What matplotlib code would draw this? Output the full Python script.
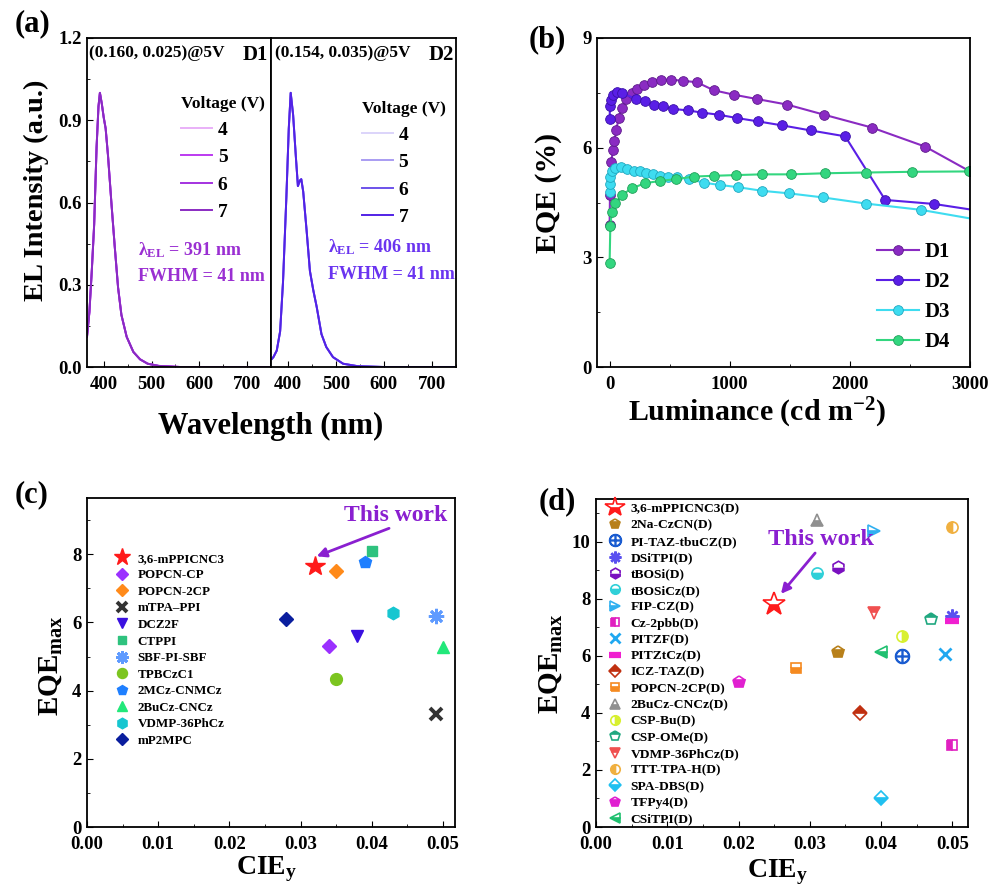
import matplotlib.pyplot as plt
from matplotlib.ticker import MultipleLocator

# ---------------- data ----------------
# (a) normalized EL spectra (same shape at each voltage)
voltages = ['4', '5', '6', '7']
d1_wl = [365, 370, 375, 380, 385, 389, 392, 396, 400, 404, 409, 416, 423, 430, 437,
         448, 462, 476, 492, 515, 560, 650, 750]
d1_int = [0.11, 0.20, 0.35, 0.52, 0.80, 0.95, 1.00, 0.96, 0.91, 0.87, 0.77, 0.60, 0.44,
          0.29, 0.19, 0.11, 0.055, 0.028, 0.012, 0.004, 0.0, 0.0, 0.0]
d2_wl = [367, 370, 377, 384, 390, 397, 402, 406, 411, 417, 421, 425, 428, 432, 439, 446,
         453, 460, 470, 480, 494, 515, 545, 600, 750]
d2_int = [0.03, 0.036, 0.06, 0.13, 0.31, 0.62, 0.87, 1.0, 0.92, 0.76, 0.66, 0.68, 0.685,
          0.64, 0.50, 0.35, 0.28, 0.22, 0.12, 0.073, 0.036, 0.012, 0.003, 0.0, 0.0]

# (b) EQE vs luminance
d1_L = [0, 3, 14, 28, 39, 56, 75, 103, 139, 186, 228, 283, 352, 427, 513, 610, 726, 867,
        1033, 1227, 1476, 1787, 2183, 2626, 3000]
d1_eqe = [3.88, 4.71, 5.62, 5.94, 6.17, 6.49, 6.81, 7.08, 7.33, 7.49, 7.60, 7.72, 7.81,
          7.86, 7.86, 7.83, 7.79, 7.57, 7.45, 7.33, 7.18, 6.90, 6.55, 6.03, 5.35]
d2_L = [0, 3, 8, 28, 61, 103, 222, 297, 366, 444, 527, 649, 768, 909, 1061, 1233, 1435,
        1676, 1961, 2294, 2701, 3200]
d2_eqe = [6.78, 7.13, 7.31, 7.45, 7.51, 7.49, 7.33, 7.27, 7.17, 7.13, 7.06, 7.02, 6.96,
          6.90, 6.81, 6.72, 6.61, 6.47, 6.31, 4.57, 4.46, 4.21]
d3_L = [0, 2, 5, 19, 47, 94, 144, 199, 249, 305, 360, 421, 490, 565, 665, 787, 917, 1066,
        1269, 1493, 1773, 2136, 2590, 3200]
d3_eqe = [4.80, 5.00, 5.21, 5.35, 5.44, 5.46, 5.41, 5.36, 5.35, 5.32, 5.28, 5.23, 5.21,
          5.19, 5.14, 5.04, 4.98, 4.92, 4.82, 4.75, 4.64, 4.47, 4.30, 3.95]
d4_L = [0, 6, 19, 47, 103, 186, 297, 421, 554, 704, 865, 1050, 1269, 1512, 1795, 2133,
        2521, 2992]
d4_eqe = [2.85, 3.87, 4.25, 4.48, 4.71, 4.89, 5.03, 5.09, 5.14, 5.21, 5.23, 5.25, 5.27,
          5.27, 5.30, 5.32, 5.34, 5.35]

# (c) comparison
c_names = ['3,6-mPPICNC3', 'POPCN-CP', 'POPCN-2CP', 'mTPA\u2013PPI', 'DCZ2F', 'CTPPI',
           'SBF-PI-SBF', 'TPBCzC1', '2MCz-CNMCz', '2BuCz-CNCz', 'VDMP-36PhCz', 'mP2MPC']
c_x = [0.032, 0.034, 0.035, 0.049, 0.038, 0.040, 0.049, 0.035, 0.039, 0.050, 0.043, 0.028]
c_y = [7.65, 5.30, 7.51, 3.31, 5.60, 8.10, 6.19, 4.33, 7.76, 5.28, 6.28, 6.09]

# (d) comparison (doped)
d_names = ['3,6-mPPICNC3(D)', '2Na-CzCN(D)', 'PI-TAZ-tbuCZ(D)', 'DSiTPI(D)', 'tBOSi(D)',
           'tBOSiCz(D)', 'FIP-CZ(D)', 'Cz-2pbb(D)', 'PITZF(D)', 'PITZtCz(D)', 'ICZ-TAZ(D)',
           'POPCN-2CP(D)', '2BuCz-CNCz(D)', 'CSP-Bu(D)', 'CSP-OMe(D)', 'VDMP-36PhCz(D)',
           'TTT-TPA-H(D)', 'SPA-DBS(D)', 'TFPy4(D)', 'CSiTPI(D)']
d_x = [0.025, 0.034, 0.043, 0.050, 0.034, 0.031, 0.039, 0.050, 0.049, 0.050, 0.037, 0.028,
       0.031, 0.043, 0.047, 0.039, 0.050, 0.040, 0.020, 0.040]
d_y = [7.81, 6.14, 6.00, 7.40, 9.12, 8.89, 10.37, 2.89, 6.06, 7.22, 4.00, 5.59, 10.78,
       6.70, 7.31, 7.51, 10.53, 1.02, 5.09, 6.14]

# ---------------- style ----------------
plt.rcParams['font.family'] = ['Liberation Serif', 'DejaVu Serif']
plt.rcParams['font.weight'] = 'bold'
plt.rcParams['mathtext.fontset'] = 'custom'
plt.rcParams['mathtext.rm'] = 'Liberation Serif:bold'
plt.rcParams['mathtext.it'] = 'Liberation Serif:bold:italic'
plt.rcParams['mathtext.bf'] = 'Liberation Serif:bold'
plt.rcParams['axes.linewidth'] = 1.3
plt.rcParams['xtick.direction'] = 'in'
plt.rcParams['ytick.direction'] = 'in'
plt.rcParams['xtick.major.size'] = 4
plt.rcParams['ytick.major.size'] = 4
plt.rcParams['xtick.minor.size'] = 2.5
plt.rcParams['ytick.minor.size'] = 2.5
plt.rcParams['xtick.labelsize'] = 13.5
plt.rcParams['ytick.labelsize'] = 13.5
plt.rcParams['xtick.major.pad'] = 6.5
plt.rcParams['ytick.major.pad'] = 4

W, H = 993, 889
fig = plt.figure(figsize=(W / 100, H / 100), dpi=100)


def box(x0, y0, x1, y1):
    return [x0 / W, 1 - y1 / H, (x1 - x0) / W, (y1 - y0) / H]


def ftext(x, y, s, **kw):
    fig.text(x / W, 1 - y / H, s, ha='center', va='center', **kw)


# ---------------- (a) ----------------
ax1 = fig.add_axes(box(87, 38, 271, 367))
ax2 = fig.add_axes(box(271, 38, 456, 367))
d1_cols = ['#E9B0F8', '#BC3AF0', '#A432E0', '#8A2BC2']
d2_cols = ['#DCD4FA', '#A99CF2', '#6C52EA', '#5222E6']
for v, c in zip(voltages, d1_cols):
    ax1.plot(d1_wl, d1_int, color=c, lw=1.4, label=v)
for v, c in zip(voltages, d2_cols):
    ax2.plot(d2_wl, d2_int, color=c, lw=1.4, label=v)

for ax in (ax1, ax2):
    ax.set_xlim(365, 750)
    ax.set_ylim(0, 1.2)
    ax.xaxis.set_major_locator(MultipleLocator(100))
    ax.xaxis.set_minor_locator(MultipleLocator(50))
    ax.yaxis.set_major_locator(MultipleLocator(0.3))
    ax.yaxis.set_minor_locator(MultipleLocator(0.15))
    ax.tick_params(top=False, right=False, which='both')
ax1.yaxis.set_major_formatter(plt.FuncFormatter(lambda v, p: f'{v:.1f}'))
ax2.tick_params(left=False, labelleft=False, which='both')

ax1.text(0.012, 0.955, '(0.160, 0.025)@5V', transform=ax1.transAxes, fontsize=12.5,
         ha='left', va='center')
ax1.text(0.985, 0.948, 'D1', transform=ax1.transAxes, fontsize=15, ha='right', va='center')
ax2.text(0.02, 0.955, '(0.154, 0.035)@5V', transform=ax2.transAxes, fontsize=12.5,
         ha='left', va='center')
ax2.text(0.99, 0.948, 'D2', transform=ax2.transAxes, fontsize=15, ha='right', va='center')

ax1.text(0.275, 0.356, r'λ$_{\mathrm{EL}}$ = 391 nm', transform=ax1.transAxes, fontsize=13,
         color='#9A2FD2', va='center')
ax1.text(0.275, 0.274, 'FWHM = 41 nm', transform=ax1.transAxes, fontsize=13,
         color='#9A2FD2', va='center')
ax2.text(0.31, 0.365, r'λ$_{\mathrm{EL}}$ = 406 nm', transform=ax2.transAxes, fontsize=13,
         color='#6A34F0', va='center')
ax2.text(0.31, 0.28, 'FWHM = 41 nm', transform=ax2.transAxes, fontsize=13,
         color='#6A34F0', va='center')

for ax, anchor in ((ax1, (0.51, 0.825)), (ax2, (0.49, 0.81))):
    leg = ax.legend(title='Voltage (V)', loc='upper left', bbox_to_anchor=anchor,
                    frameon=False, fontsize=14, title_fontsize=12.5, handlelength=1.6,
                    handletextpad=0.3, labelspacing=0.5, alignment='left',
                    borderaxespad=0, borderpad=0)

ftext(36, 190, 'EL Intensity (a.u.)', fontsize=20.5, rotation=90)
ftext(271, 426, 'Wavelength (nm)', fontsize=22)
ftext(32, 24, '(a)', fontsize=22)

# ---------------- (b) ----------------
axb = fig.add_axes(box(597, 38, 970, 367))
series_b = [('D1', d1_L, d1_eqe, '#8A2BC2', '#5E1A8C'),
            ('D2', d2_L, d2_eqe, '#5A1FE6', '#3A10A8'),
            ('D3', d3_L, d3_eqe, '#3EDCF0', '#20A8C0'),
            ('D4', d4_L, d4_eqe, '#33D67F', '#20A05A')]
for name, L, e, c, ec in series_b:
    axb.plot(L, e, color=c, lw=1.5, marker='o', ms=7, mfc=c, mec=ec, mew=0.6,
             label=name)
axb.set_xlim(-105, 3000)
axb.set_ylim(0, 9)
axb.xaxis.set_major_locator(MultipleLocator(1000))
axb.xaxis.set_minor_locator(MultipleLocator(500))
axb.yaxis.set_major_locator(MultipleLocator(3))
axb.yaxis.set_minor_locator(MultipleLocator(1.5))
axb.tick_params(top=False, right=False, which='both')
axb.legend(loc='lower right', bbox_to_anchor=(0.97, 0.02), frameon=False, fontsize=15,
           handlelength=2.0, handletextpad=0.3, labelspacing=0.48, borderaxespad=0)
ftext(549, 193, 'EQE (%)', fontsize=21.5, rotation=90)
ftext(757, 413, r'Luminance (cd m$^{\mathbf{-2}}$)', fontsize=21.5)
ftext(547, 40, '(b)', fontsize=22)

# ---------------- (c) ----------------
axc = fig.add_axes(box(87, 498, 455, 827))
c_style = [('*', '#FF1A1A', 15), ('D', '#9B30FF', 7), ('D', '#FF8A1A', 7),
           ('x', '#333333', 9), ('v', '#3A10E0', 8), ('s', '#2EC27E', 7.5),
           ((8, 2, 0), '#5F9BFF', 11), ('o', '#7CC520', 8.5), ('p', '#1E7FFF', 9),
           ('^', '#22E87A', 8.5), ('h', '#16C6D0', 9), ('D', '#0A1E9E', 7)]
for name, x, y, (m, col, ms) in zip(c_names, c_x, c_y, c_style):
    if m in ('x', (8, 2, 0)):
        axc.plot(x, y, ls='none', marker=m, ms=ms, color=col, mew=2.8 if m == 'x' else 2,
                 label=name)
    else:
        axc.plot(x, y, ls='none', marker=m, ms=ms, color=col, mec=col, label=name)
axc.set_xlim(0, 0.0517)
axc.set_ylim(0, 9.65)
axc.xaxis.set_major_locator(MultipleLocator(0.01))
axc.xaxis.set_minor_locator(MultipleLocator(0.005))
axc.yaxis.set_major_locator(MultipleLocator(2))
axc.yaxis.set_minor_locator(MultipleLocator(1))
axc.xaxis.set_major_formatter(plt.FuncFormatter(lambda v, p: f'{v:.2f}'))
axc.tick_params(top=False, right=False, which='both')
axc.legend(loc='upper left', bbox_to_anchor=(0.06, 0.85), frameon=False, fontsize=9.4,
           handlelength=1.2, handletextpad=0.6, labelspacing=0.34, borderaxespad=0,
           markerscale=0.85)
axc.text(0.0434, 9.14, 'This work', fontsize=17, color='#8A1FD0', ha='center', va='center')
axc.annotate('', xy=(0.0319, 7.91), xytext=(0.0428, 8.79),
             arrowprops=dict(arrowstyle='-|>', color='#8A1FD0', lw=2, mutation_scale=14))
ftext(50, 665, r'EQE$_{\mathrm{max}}$', fontsize=21, rotation=90)
ftext(267, 869, r'CIE$_{\mathrm{y}}$', fontsize=20)
ftext(32, 495, '(c)', fontsize=22)

# ---------------- (d) ----------------
axd = fig.add_axes(box(596, 499, 968, 827))
d_style = [('*', '#FF1A1A', 'bottom', 17), ('p', '#B8801A', 'bottom', 9),
           (r'$\oplus$', '#1A5CD0', 'full', 10), ((8, 2, 0), '#5A50F0', 'full', 10),
           ('h', '#7A10C0', 'bottom', 9), ('o', '#30D0D8', 'bottom', 8),
           ('>', '#30B0F0', 'bottom', 8), ('s', '#E020C0', 'left', 7.5),
           ('x', '#20A8F0', 'full', 9), ('_', '#F020D0', 'full', 10),
           ('D', '#C03010', 'top', 7.5), ('s', '#F58A20', 'bottom', 7.5),
           ('^', '#909090', 'bottom', 8), ('o', '#D8F030', 'right', 8),
           ('p', '#20A880', 'top', 9), ('v', '#F05050', 'top', 8),
           ('o', '#F0B040', 'left', 8), ('D', '#20C0F0', 'bottom', 7.5),
           ('p', '#E020D0', 'bottom', 9), ('<', '#20C070', 'bottom', 8)]
for name, x, y, (m, col, fs, ms) in zip(d_names, d_x, d_y, d_style):
    if m in ('x', (8, 2, 0), '_'):
        axd.plot(x, y, ls='none', marker=m, ms=ms, color=col,
                 mew={'x': 2, '_': 4.5}.get(m, 1.8), label=name)
    else:
        axd.plot(x, y, ls='none', marker=m, ms=ms, color=col, mec=col, fillstyle=fs,
                 markerfacecoloralt='white', mew=1.2, label=name)
axd.set_xlim(0, 0.0522)
axd.set_ylim(0, 11.5)
axd.xaxis.set_major_locator(MultipleLocator(0.01))
axd.xaxis.set_minor_locator(MultipleLocator(0.005))
axd.yaxis.set_major_locator(MultipleLocator(2))
axd.yaxis.set_minor_locator(MultipleLocator(1))
axd.xaxis.set_major_formatter(plt.FuncFormatter(lambda v, p: f'{v:.2f}'))
axd.tick_params(top=False, right=False, which='both')
axd.legend(loc='upper left', bbox_to_anchor=(0.01, 1.009), frameon=False, fontsize=9.7,
           handlelength=1.2, handletextpad=0.6, labelspacing=0.29, borderaxespad=0.1,
           markerscale=0.85)
axd.text(0.0315, 10.07, 'This work', fontsize=17.5, color='#8A1FD0', ha='center',
         va='center')
axd.annotate('', xy=(0.0257, 8.1), xytext=(0.0310, 9.68),
             arrowprops=dict(arrowstyle='-|>', color='#8A1FD0', lw=2, mutation_scale=14))
ftext(550, 663, r'EQE$_{\mathrm{max}}$', fontsize=21, rotation=90)
ftext(778, 872, r'CIE$_{\mathrm{y}}$', fontsize=20)
ftext(557, 502, '(d)', fontsize=22)

fig.savefig('out.png', dpi=100)
